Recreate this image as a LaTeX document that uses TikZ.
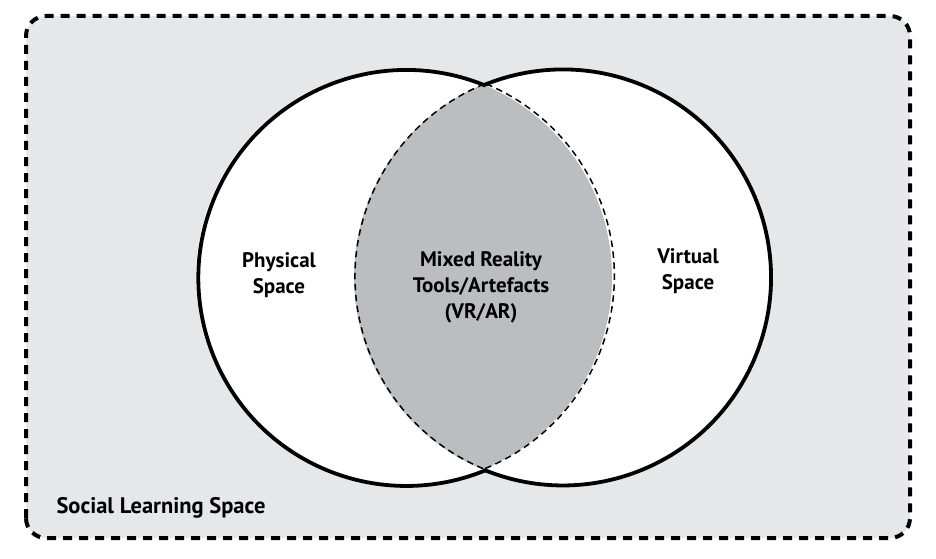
\documentclass[tikz,border=0pt]{standalone}
\usepackage{fontspec}
\setmainfont{PT Sans}
\usepackage{xcolor}
\usepackage{tikz}
\usetikzlibrary{calc}
\definecolor{bgspace}{HTML}{E6E7E8}
\definecolor{lensgray}{HTML}{BCBDC0}

\begin{document}
\begin{tikzpicture}[x=1pt,y=1pt,
    every node/.style={font=\fontsize{21}{26}\selectfont\bfseries},
    spaceline/.style={line width=3.8pt},
    lensline/.style={line width=1.5pt,dash pattern=on 6.5pt off 4.5pt}]
        \useasboundingbox (0,0) rectangle (936,558);

        % Social learning space
        \draw[fill=bgspace,line width=4pt,dash pattern=on 9pt off 7pt,
          rounded corners=20pt] (26,20) rectangle (910,542);
        \node[anchor=west,font=\fontsize{22.5}{27}\selectfont\bfseries]
          (social) at (53,50) {Social Learning Space};

        % the two spaces
        \node[circle,inner sep=0pt,outer sep=0pt,minimum size=416pt]
          (phys) at (404,281) {};
        \node[circle,inner sep=0pt,outer sep=0pt,minimum size=416pt]
          (virt) at (562,281) {};
        \fill[white] (phys.center) circle[radius=208pt];
        \fill[white] (virt.center) circle[radius=208pt];

        % overlap (mixed reality)
        \begin{scope}
          \clip (phys.center) circle[radius=208pt];
          \fill[lensgray] (virt.center) circle[radius=208pt];
        \end{scope}
        \draw[lensline] (phys.-67.7) arc[start angle=-67.7,end angle=67.7,radius=208pt];
        \draw[lensline] (virt.112.3) arc[start angle=112.3,end angle=247.7,radius=208pt];

        % outer arcs
        \draw[spaceline] (phys.67.7) arc[start angle=67.7,end angle=292.3,radius=208pt];
        \draw[spaceline] (virt.-112.3) arc[start angle=-112.3,end angle=112.3,radius=208pt];

        \node[align=center] (physlabel) at (279,283) {Physical\\Space};
        \node[align=center] (mixlabel) at (481,271)
          {Mixed Reality\\Tools/Artefacts\\(VR/AR)};
        \node[align=center] (virtlabel) at (688,287) {Virtual\\Space};
\end{tikzpicture}
\end{document}
